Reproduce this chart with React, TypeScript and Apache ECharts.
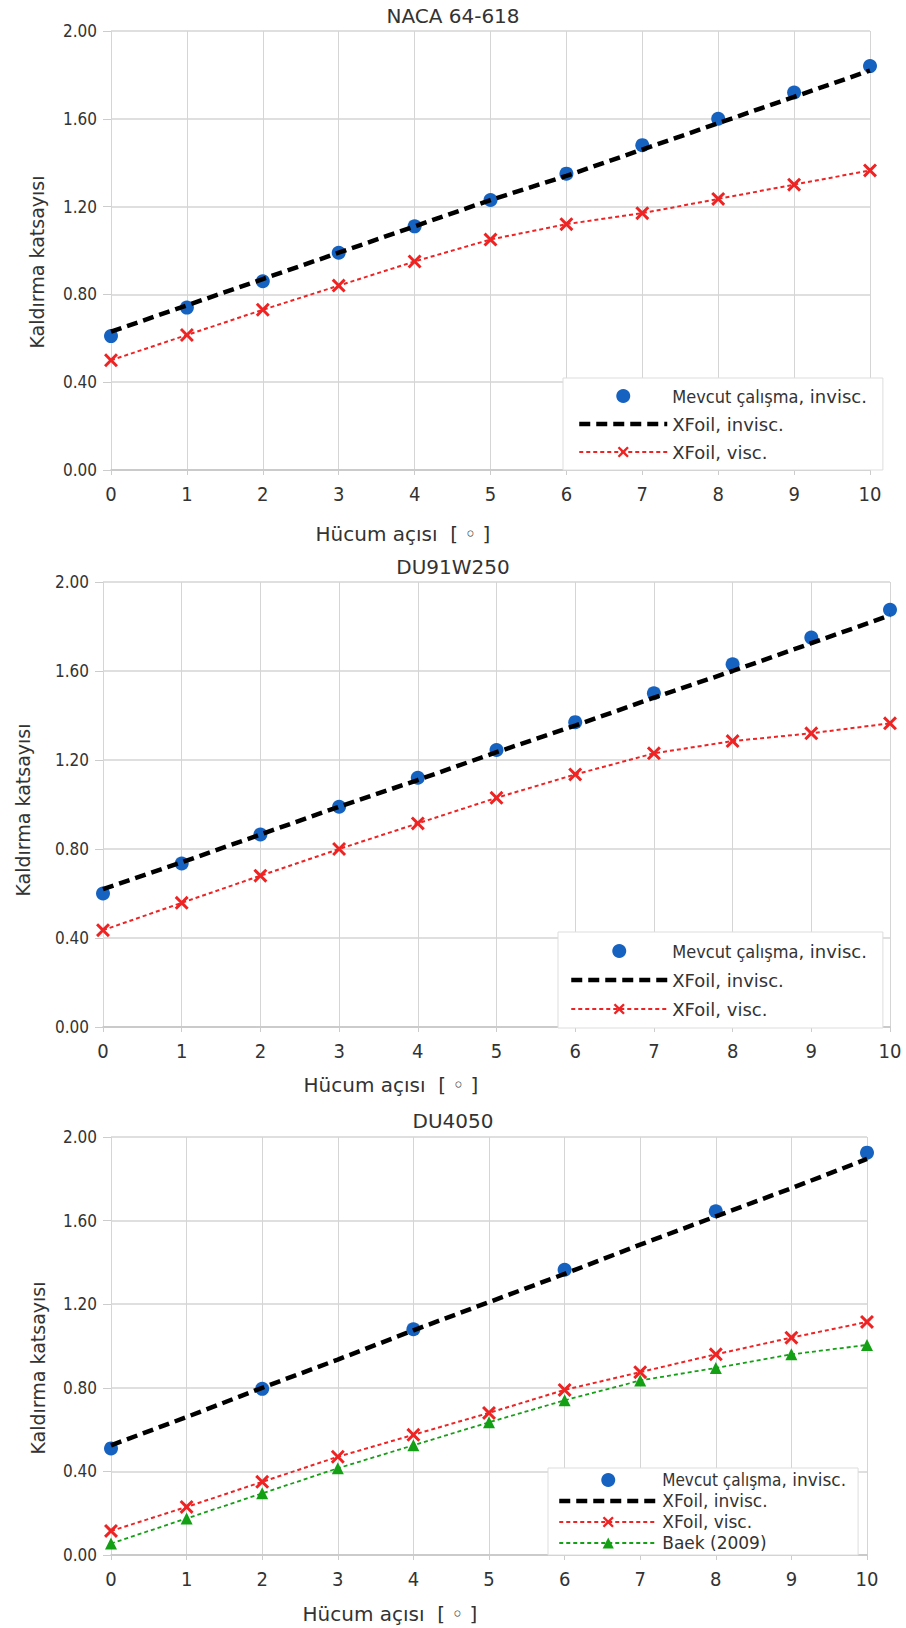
import React, { useEffect, useRef } from "react";
import * as echarts from "echarts";

// ---------- data ----------
const angles = [0, 1, 2, 3, 4, 5, 6, 7, 8, 9, 10];

// NACA 64-618
const nacaMevcut = [0.61, 0.74, 0.86, 0.99, 1.11, 1.23, 1.35, 1.48, 1.6, 1.72, 1.84];
const nacaXfoilInv = [0.63, 0.75, 0.87, 0.99, 1.11, 1.23, 1.34, 1.46, 1.58, 1.7, 1.82];
const nacaXfoilVisc = [0.5, 0.615, 0.73, 0.84, 0.95, 1.05, 1.12, 1.17, 1.235, 1.3, 1.365];

// DU91W250
const du91Mevcut = [0.6, 0.735, 0.865, 0.99, 1.12, 1.245, 1.37, 1.5, 1.63, 1.75, 1.875];
const du91XfoilInv = [0.62, 0.74, 0.865, 0.99, 1.11, 1.235, 1.355, 1.48, 1.6, 1.725, 1.85];
const du91XfoilVisc = [0.435, 0.558, 0.68, 0.8, 0.915, 1.03, 1.135, 1.23, 1.285, 1.32, 1.365];

// DU4050
const du40MevcutAngles = [0, 2, 4, 6, 8, 10];
const du40Mevcut = [0.51, 0.795, 1.08, 1.365, 1.645, 1.925];
const du40XfoilInv = [0.525, 0.66, 0.8, 0.935, 1.075, 1.21, 1.345, 1.485, 1.62, 1.755, 1.895];
const du40XfoilVisc = [0.115, 0.23, 0.35, 0.47, 0.575, 0.68, 0.79, 0.875, 0.96, 1.04, 1.115];
const du40Baek = [0.055, 0.175, 0.295, 0.415, 0.525, 0.635, 0.74, 0.835, 0.895, 0.96, 1.005];

const titles = ["NACA 64-618", "DU91W250", "DU4050"];
const xAxisName = "Hücum açısı  [ ◦ ]";
const yAxisName = "Kaldırma katsayısı";

const NAME_MEVCUT = "Mevcut çalışma, invisc.";
const NAME_INV = "XFoil, invisc.";
const NAME_VISC = "XFoil, visc.";
const NAME_BAEK = "Baek (2009)";

// ---------- styles ----------
const BLUE = "#1662c0";
const RED = "#ee2424";
const GREEN = "#14a014";
const TEXT = "#333333";
const GRIDC = "#d5d5d5";
const NARROW = "'DejaVu Sans Condensed', 'Liberation Sans Narrow', 'DejaVu Sans', sans-serif";
const SANS = "'DejaVu Sans', sans-serif";
const CROSS =
  "path://M3,0 L10,7 L17,0 L20,3 L13,10 L20,17 L17,20 L10,13 L3,20 L0,17 L7,10 L0,3 Z";

const pairs = (xs: number[], ys: number[]) => xs.map((x, i) => [x, ys[i]]);

const grids = [
  { left: 111, top: 31, width: 759, height: 439 },
  { left: 103, top: 582, width: 787, height: 445 },
  { left: 111, top: 1137, width: 756, height: 418 },
];

const legendPos = [
  { left: 563, top: 378, itemWidth: 88, lineHeight: 20, itemGap: 8, padding: [8, 16, 8, 14], fontSize: 18 },
  { left: 558, top: 932, itemWidth: 96, lineHeight: 20, itemGap: 9, padding: [9, 16, 9, 11], fontSize: 18 },
  { left: 548, top: 1468, itemWidth: 98, lineHeight: 18, itemGap: 3, padding: [3, 12, 3, 9], fontSize: 17 },
];

const titleTops = [4, 555, 1109];
const xNamePos = [
  [403, 534],
  [391, 1085],
  [390, 1614],
];
const yNamePos = [
  [37, 262],
  [23, 810],
  [38, 1368],
];

const INV_LINE = { color: "#000", width: 4.5, type: [11, 6] };

function App() {
  const ref = useRef<HTMLDivElement>(null);

  useEffect(() => {
    if (!ref.current) return;
    const chart = echarts.init(ref.current, undefined, { renderer: "svg" });

    const xAxes = grids.map((_, i) => ({
      gridIndex: i,
      type: "value",
      min: 0,
      max: 10,
      interval: 1,
      axisLine: { show: true, onZero: false, lineStyle: { color: "#c4c4c4", width: 1.5 } },
      axisTick: { show: true, length: 5, lineStyle: { color: "#cccccc" } },
      axisLabel: { fontFamily: NARROW, fontSize: 20, color: TEXT, margin: 14 },
      splitLine: { show: true, lineStyle: { color: GRIDC, width: 1 } },
    }));

    const yAxes = grids.map((_, i) => ({
      gridIndex: i,
      type: "value",
      min: 0,
      max: 2,
      interval: 0.4,
      axisLine: { show: false },
      axisTick: { show: true, length: 8, lineStyle: { color: "#cccccc" } },
      axisLabel: {
        fontFamily: NARROW,
        fontSize: 17,
        color: TEXT,
        margin: 14,
        formatter: (v: number) => v.toFixed(2),
      },
      splitLine: { show: true, lineStyle: { color: GRIDC, width: 1.5 } },
    }));

    const mevcut = (i: number, xs: number[], ys: number[]) => ({
      name: NAME_MEVCUT,
      type: "scatter",
      xAxisIndex: i,
      yAxisIndex: i,
      symbol: "circle",
      symbolSize: 14,
      itemStyle: { color: BLUE, opacity: 1 },
      z: 2,
      data: pairs(xs, ys),
    });
    const inv = (i: number, ys: number[]) => ({
      name: NAME_INV,
      type: "line",
      xAxisIndex: i,
      yAxisIndex: i,
      symbol: "none",
      lineStyle: INV_LINE,
      itemStyle: { color: "#000" },
      z: 3,
      data: pairs(angles, ys),
    });
    const visc = (i: number, ys: number[]) => ({
      name: NAME_VISC,
      type: "line",
      xAxisIndex: i,
      yAxisIndex: i,
      symbol: CROSS,
      symbolSize: 14,
      showSymbol: true,
      lineStyle: { color: RED, width: 2, type: [4, 3] },
      itemStyle: { color: RED },
      z: 4,
      data: pairs(angles, ys),
    });
    const baek = (i: number, ys: number[]) => ({
      name: NAME_BAEK,
      type: "line",
      xAxisIndex: i,
      yAxisIndex: i,
      symbol: "triangle",
      symbolSize: 12,
      showSymbol: true,
      lineStyle: { color: GREEN, width: 1.8, type: [4, 3] },
      itemStyle: { color: GREEN },
      z: 4,
      data: pairs(angles, ys),
    });

    const series = [
      mevcut(0, angles, nacaMevcut),
      inv(0, nacaXfoilInv),
      visc(0, nacaXfoilVisc),
      mevcut(1, angles, du91Mevcut),
      inv(1, du91XfoilInv),
      visc(1, du91XfoilVisc),
      mevcut(2, du40MevcutAngles, du40Mevcut),
      inv(2, du40XfoilInv),
      visc(2, du40XfoilVisc),
      baek(2, du40Baek),
    ];

    const legendData = (withBaek: boolean) => {
      const d: any[] = [
        { name: NAME_MEVCUT, itemStyle: { color: BLUE, opacity: 1 } },
        {
          name: NAME_INV,
          itemStyle: { opacity: 0, color: "rgba(0,0,0,0)", borderWidth: 0 },
          lineStyle: INV_LINE,
        },
        { name: NAME_VISC },
      ];
      if (withBaek) d.push({ name: NAME_BAEK });
      return d;
    };

    const legends = legendPos.map((p, i) => ({
      orient: "vertical",
      left: p.left,
      top: p.top,
      itemWidth: p.itemWidth,
      itemHeight: 14,
      itemGap: p.itemGap,
      padding: p.padding,
      backgroundColor: "#ffffff",
      borderColor: "#dddddd",
      borderWidth: 1,
      borderRadius: 0,
      selectedMode: false,
      z: 10,
      data: legendData(i === 2),
      formatter: (name: string) =>
        name === NAME_MEVCUT ? "{a|Mevcut çalışma}{b|, invisc.}" : name,
      textStyle: {
        fontFamily: SANS,
        fontSize: p.fontSize,
        color: TEXT,
        lineHeight: p.lineHeight,
        rich: {
          a: { fontFamily: NARROW, fontSize: p.fontSize, color: TEXT, lineHeight: p.lineHeight },
          b: { fontFamily: SANS, fontSize: p.fontSize, color: TEXT, lineHeight: p.lineHeight },
        },
      },
    }));

    const graphic: any[] = [];
    xNamePos.forEach(([x, y]) => {
      graphic.push({
        type: "text",
        x,
        y,
        style: {
          text: xAxisName,
          fill: TEXT,
          font: `20px ${SANS}`,
          align: "center",
          verticalAlign: "middle",
          textAlign: "center",
          textVerticalAlign: "middle",
        },
      });
    });
    yNamePos.forEach(([x, y]) => {
      graphic.push({
        type: "text",
        x,
        y,
        rotation: Math.PI / 2,
        style: {
          text: yAxisName,
          fill: TEXT,
          font: `19px ${SANS}`,
          align: "center",
          verticalAlign: "middle",
          textAlign: "center",
          textVerticalAlign: "middle",
        },
      });
    });

    chart.setOption({
      animation: false,
      backgroundColor: "#ffffff",
      title: titles.map((t, i) => ({
        text: t,
        left: "center",
        top: titleTops[i],
        padding: 0,
        textStyle: { fontFamily: SANS, fontSize: 20, fontWeight: "normal", color: TEXT, lineHeight: 24 },
      })),
      grid: grids,
      xAxis: xAxes,
      yAxis: yAxes,
      legend: legends,
      series,
      graphic,
    });

    return () => chart.dispose();
  }, []);

  return (
    <div
      ref={ref}
      style={{ position: "absolute", left: 0, top: 0, width: 906, height: 1628, background: "#fff" }}
    />
  );
}

export default App;
